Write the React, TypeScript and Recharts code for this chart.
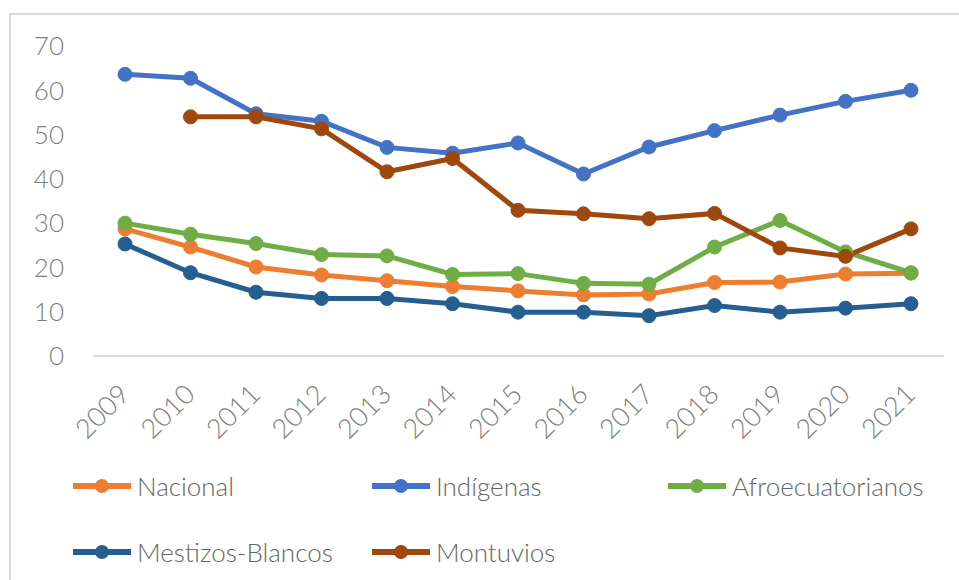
import React from 'react';
import { LineChart, Line, XAxis, YAxis, Legend } from 'recharts';

// Years on the category axis
const years = ['2009', '2010', '2011', '2012', '2013', '2014', '2015', '2016', '2017', '2018', '2019', '2020', '2021'];

// Series values
const nacional = [28.7, 24.6, 20.1, 18.3, 17.0, 15.7, 14.7, 13.8, 14.0, 16.6, 16.7, 18.5, 18.7];
const indigenas = [63.6, 62.7, 54.7, 53.0, 47.1, 45.8, 48.1, 41.1, 47.2, 50.9, 54.4, 57.5, 60.0];
const afroecuatorianos = [30.0, 27.5, 25.4, 22.9, 22.6, 18.4, 18.6, 16.4, 16.2, 24.6, 30.6, 23.5, 18.8];
const mestizosBlancos = [25.3, 18.8, 14.4, 13.0, 13.0, 11.8, 9.9, 9.9, 9.1, 11.4, 9.9, 10.8, 11.8];
const montuvios = [null, 54.0, 54.0, 51.3, 41.6, 44.6, 32.9, 32.1, 31.0, 32.2, 24.4, 22.5, 28.7];

const yTicks = [0, 10, 20, 30, 40, 50, 60, 70];

const series = [
    { key: 'nacional', name: 'Nacional', color: '#ED7D31' },
    { key: 'indigenas', name: 'Indígenas', color: '#4472C4' },
    { key: 'afro', name: 'Afroecuatorianos', color: '#70AD47' },
    { key: 'mestizos', name: 'Mestizos-Blancos', color: '#255E91' },
    { key: 'montuvios', name: 'Montuvios', color: '#9E480E' },
];

const data = years.map((year, i) => ({
    year,
    nacional: nacional[i],
    indigenas: indigenas[i],
    afro: afroecuatorianos[i],
    mestizos: mestizosBlancos[i],
    montuvios: montuvios[i],
}));

const FONT = 'Lato, "Open Sans", sans-serif';

// legend laid out like the Excel grid: three columns, two rows
const legendSlots = [
    { left: 73, top: 26 },
    { left: 372, top: 26 },
    { left: 668, top: 26 },
    { left: 73, top: 92 },
    { left: 372, top: 92 },
];

const CustomLegend = () => (
    <div style={{ position: 'relative', width: 959, height: 120 }}>
        {series.map((s, i) => (
            <div
                key={s.key}
                style={{
                    position: 'absolute',
                    left: legendSlots[i].left,
                    top: legendSlots[i].top - 16,
                    height: 32,
                    display: 'flex',
                    alignItems: 'center',
                }}
            >
                <svg width={58} height={20}>
                    <line x1={1} y1={10} x2={57} y2={10} stroke={s.color} strokeWidth={6} strokeLinecap="round" />
                    <circle cx={29} cy={10} r={7} fill={s.color} />
                </svg>
                <span
                    style={{
                        marginLeft: 6,
                        fontFamily: FONT,
                        fontWeight: 300,
                        fontSize: 26,
                        color: '#666666',
                        whiteSpace: 'nowrap',
                    }}
                >
                    {s.name}
                </span>
            </div>
        ))}
    </div>
);

// rotated year label, end of text sits just right of the point
const YearTick = (props: any) => {
    const { x, y, payload } = props;
    return (
        <g transform={`translate(${x + 6},${y + 40})`}>
            <text
                transform="rotate(-45)"
                textAnchor="end"
                fontSize={27}
                fontWeight={300}
                fontFamily={FONT}
                fill="#7f7f7f"
            >
                {payload.value}
            </text>
        </g>
    );
};

const App: React.FC = () => {
    return (
        <div style={{ position: 'absolute', left: 0, top: 0, width: 959, height: 580, background: '#fff', overflow: 'hidden' }}>
            {/* chart frame */}
            <div
                style={{
                    position: 'absolute',
                    left: 9,
                    top: 13,
                    right: 0,
                    bottom: 0,
                    borderTop: '2px solid #d9d9d9',
                    borderLeft: '2px solid #d9d9d9',
                }}
            />
            <LineChart
                width={959}
                height={580}
                data={data}
                margin={{ top: 46, right: 15, bottom: 0, left: 0 }}
            >
                <XAxis
                    dataKey="year"
                    height={104}
                    padding={{ left: 32, right: 33 }}
                    tickLine={false}
                    axisLine={{ stroke: '#d9d9d9', strokeWidth: 2 }}
                    interval={0}
                    tickSize={0}
                    tickMargin={0}
                    tick={<YearTick />}
                />
                <YAxis
                    width={93}
                    domain={[0, 70]}
                    ticks={yTicks}
                    tickLine={false}
                    axisLine={false}
                    tickSize={0}
                    tickMargin={29}
                    tick={{ fontSize: 26, fill: '#7f7f7f', fontFamily: FONT, fontWeight: 300 }}
                />
                <Legend
                    verticalAlign="bottom"
                    content={() => <CustomLegend />}
                    wrapperStyle={{ left: 0, width: 959, height: 120 }}
                />
                {series.map((s) => (
                    <Line
                        key={s.key}
                        type="linear"
                        dataKey={s.key}
                        name={s.name}
                        stroke={s.color}
                        strokeWidth={5}
                        dot={{ r: 7, fill: s.color, stroke: s.color, strokeWidth: 1 }}
                        activeDot={false}
                        isAnimationActive={false}
                    />
                ))}
            </LineChart>
        </div>
    );
};

export default App;
